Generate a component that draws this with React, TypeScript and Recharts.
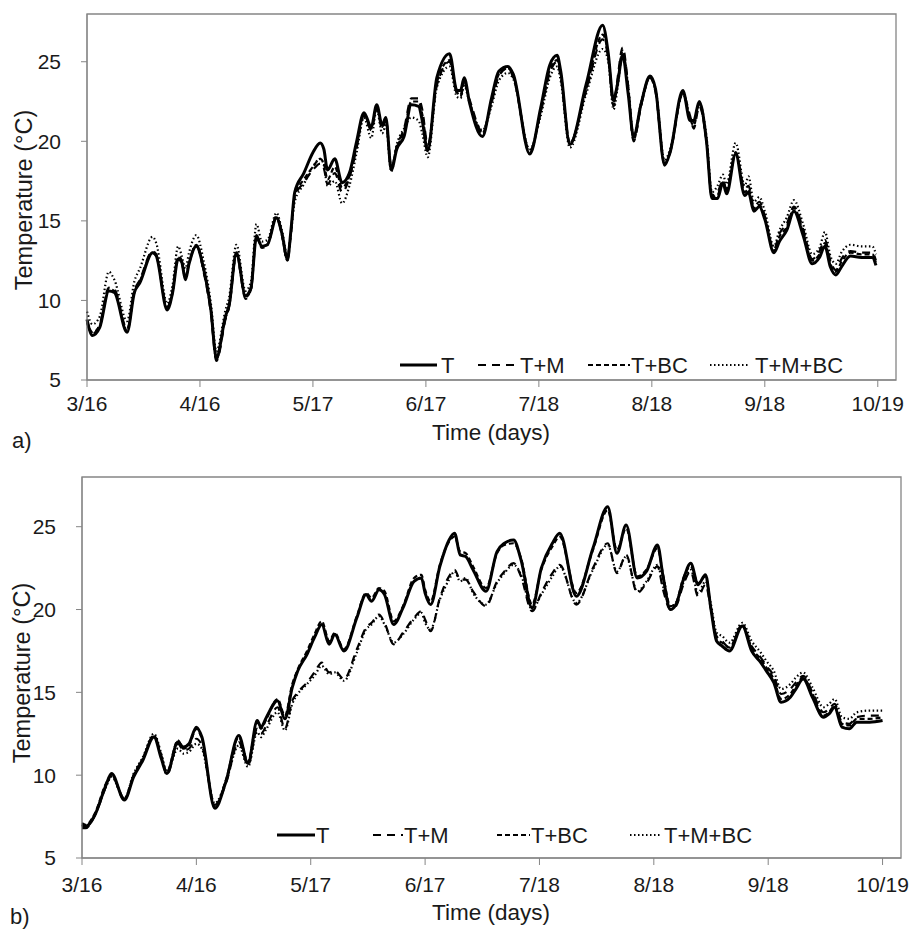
import { LineChart, Line, XAxis, YAxis, ReferenceArea } from 'recharts';

// x positions are days after 3/16
const TICK_DAYS = [0, 31, 62, 93, 124, 155, 186, 217];
const TICK_LABELS = ['3/16', '4/16', '5/17', '6/17', '7/18', '8/18', '9/18', '10/19'];
const Y_TICKS = [5, 10, 15, 20, 25];

// ---- panel a ----
const A_DAYS = [0, 1.5, 3.5, 6, 7.5, 11, 13, 14.5, 18, 19, 22, 23.5, 25, 26, 27, 28, 30, 32, 34, 35.5, 38, 39, 41, 43.5, 45, 46.5, 48, 49.5, 52, 53.5, 55, 56, 57, 59.5, 62, 64, 65, 66, 68, 70, 72, 74, 76, 78, 79.5, 81, 82, 83.5, 85, 87, 89, 91, 92, 93.5, 96, 99.5, 101.5, 102.5, 103.5, 105, 108.5, 111, 113, 115.5, 117, 121.5, 124.5, 127, 129, 130, 132.5, 137, 141.5, 143, 144.5, 145.5, 147, 148.5, 150, 152, 154.5, 156, 158.5, 160, 163.5, 165.5, 166.5, 168, 170, 171.5, 173, 174.5, 175.5, 178, 180.5, 181.5, 183, 184.5, 186, 188.5, 190, 192, 194, 196.5, 199, 201, 202.5, 204, 205.5, 207, 209.5, 212.5, 215.5, 216.5];
const A_T = [8.8, 7.8, 8.3, 10.6, 10.5, 8.0, 10.5, 11.1, 13.0, 12.8, 9.4, 10.5, 12.6, 12.4, 11.3, 12.3, 13.4, 12.0, 9.4, 6.4, 9.0, 9.7, 13.0, 10.3, 10.8, 14.0, 13.4, 13.5, 15.2, 14.2, 12.6, 14.5, 16.8, 18.0, 19.3, 19.9, 19.5, 18.2, 18.9, 17.4, 18.0, 20.0, 21.8, 20.9, 22.3, 21.0, 21.5, 18.2, 19.5, 20.3, 22.3, 22.2, 21.3, 19.4, 24.0, 25.5, 23.2, 23.2, 24.0, 22.4, 20.3, 22.7, 24.4, 24.7, 24.2, 19.2, 22.1, 24.8, 25.4, 24.4, 19.8, 23.6, 27.3, 25.6, 22.6, 23.5, 25.4, 23.0, 20.3, 22.3, 24.1, 23.3, 18.5, 19.3, 23.2, 21.3, 21.3, 22.5, 20.0, 16.4, 16.4, 17.4, 16.7, 19.2, 16.6, 16.8, 15.6, 15.9, 15.1, 13.0, 13.7, 14.4, 15.6, 14.1, 12.3, 12.7, 13.4, 12.1, 11.6, 12.1, 12.8, 12.7, 12.7, 12.2];
const A_TM = [8.6, 7.9, 8.5, 10.8, 10.7, 8.2, 10.6, 11.3, 13.1, 12.9, 9.6, 10.6, 12.8, 12.5, 11.5, 12.4, 13.5, 11.8, 9.2, 6.2, 8.8, 9.6, 12.9, 10.1, 10.7, 14.1, 13.4, 13.5, 15.3, 14.1, 12.5, 14.3, 16.5, 17.4, 18.2, 18.6, 18.3, 17.3, 18.0, 16.8, 17.7, 19.6, 21.6, 20.7, 22.1, 20.8, 21.3, 18.3, 19.7, 20.8, 22.7, 22.7, 22.0, 19.8, 23.5, 25.0, 23.0, 22.8, 23.6, 22.6, 20.6, 22.4, 24.1, 24.6, 24.0, 19.4, 21.8, 24.3, 25.0, 24.0, 19.9, 23.2, 26.4, 25.3, 22.2, 23.8, 25.9, 23.5, 20.0, 22.2, 24.0, 23.1, 18.6, 19.3, 23.0, 21.6, 20.8, 22.2, 20.0, 16.6, 16.8, 17.5, 17.0, 19.3, 17.0, 17.2, 15.9, 16.2, 15.3, 13.2, 14.2, 14.8, 15.9, 14.5, 12.6, 13.1, 13.8, 12.5, 11.9, 12.6, 13.1, 13.0, 13.0, 12.5];
const A_TBC = [8.7, 8.0, 8.4, 10.7, 10.6, 8.1, 10.5, 11.2, 13.0, 12.8, 9.5, 10.5, 12.7, 12.4, 11.4, 12.3, 13.5, 11.9, 9.3, 6.3, 8.9, 9.6, 12.9, 10.2, 10.7, 14.0, 13.3, 13.5, 15.2, 14.1, 12.5, 14.4, 16.6, 17.6, 18.4, 18.9, 18.6, 17.6, 18.4, 17.1, 17.8, 19.7, 21.7, 20.8, 22.2, 20.9, 21.4, 18.4, 19.6, 20.6, 22.5, 22.5, 21.7, 19.6, 23.7, 25.1, 23.1, 22.9, 23.8, 22.5, 20.5, 22.5, 24.2, 24.6, 24.1, 19.3, 21.9, 24.5, 25.1, 24.2, 19.9, 23.3, 26.7, 25.5, 22.4, 23.6, 25.7, 23.3, 20.1, 22.2, 24.0, 23.2, 18.6, 19.3, 23.1, 21.4, 21.0, 22.3, 20.0, 16.5, 16.6, 17.5, 16.9, 19.3, 16.8, 17.0, 15.8, 16.0, 15.2, 13.1, 14.0, 14.6, 15.8, 14.3, 12.5, 12.9, 13.6, 12.3, 11.8, 12.4, 13.0, 12.9, 12.9, 12.4];
const A_TMBC = [9.3, 8.5, 9.0, 11.8, 11.3, 8.7, 11.2, 12.0, 14.0, 13.6, 9.8, 11.0, 13.4, 12.8, 12.0, 13.0, 14.1, 12.5, 9.8, 6.8, 9.4, 10.2, 13.5, 10.6, 11.2, 14.8, 13.7, 13.8, 15.5, 14.4, 12.8, 14.3, 16.2, 17.3, 18.4, 18.9, 18.5, 17.2, 17.5, 16.1, 17.2, 19.3, 21.5, 20.2, 22.0, 20.5, 21.0, 18.1, 19.8, 20.8, 21.5, 21.3, 20.5, 19.0, 23.4, 24.7, 22.8, 22.7, 23.5, 22.4, 20.7, 22.2, 23.8, 24.3, 23.9, 19.5, 21.6, 24.0, 24.7, 23.8, 19.6, 23.0, 25.8, 25.1, 22.0, 23.2, 25.5, 23.5, 20.3, 22.4, 24.0, 23.3, 18.8, 19.5, 23.0, 21.5, 21.2, 22.4, 20.3, 16.8, 17.2, 17.9, 17.3, 19.9, 17.2, 17.8, 16.2, 16.5, 15.6, 13.4, 14.4, 15.2, 16.3, 14.8, 12.9, 13.3, 14.3, 12.8, 12.3, 13.0, 13.5, 13.4, 13.4, 12.9];

// ---- panel b ----
const B_DAYS = [0, 1, 3.5, 6.5, 8, 11.5, 14, 16.5, 19.5, 21.5, 23, 26, 27.5, 29, 31, 32.5, 36, 39, 42.5, 45, 47.5, 48.5, 50, 53, 55, 57, 58.5, 61, 63, 65, 67, 68.5, 71, 74.5, 77, 78.5, 80.5, 82, 84.5, 87, 90, 92, 93, 94.5, 97, 99.5, 101, 102.5, 104, 106, 109.5, 112.5, 114.5, 117, 119, 122, 124.5, 127.5, 129.5, 134, 138.5, 142.5, 145, 147.5, 150.5, 153, 156, 157.5, 159.5, 161, 163, 165, 167, 169, 170.5, 172, 173.5, 175.5, 179, 181.5, 184, 185.5, 187.5, 189.5, 192, 193.5, 195.5, 198, 201, 202.5, 204, 206, 208, 210, 213.5, 217];
const B_T = [7.0, 6.9, 7.6, 9.4, 10.1, 8.5, 9.9, 10.9, 12.3, 11.0, 10.1, 12.0, 11.7, 11.9, 12.9, 12.3, 8.0, 9.6, 12.4, 10.7, 13.3, 12.9, 13.5, 14.5, 13.4, 15.3, 16.3, 17.3, 18.3, 19.1, 17.9, 18.5, 17.5, 19.5, 20.9, 20.5, 21.2, 20.9, 19.1, 20.1, 21.7, 21.9, 21.0, 20.3, 22.6, 24.2, 24.6, 23.3, 23.2, 22.4, 21.1, 23.5, 24.0, 24.2, 23.0, 20.1, 22.5, 24.0, 24.6, 20.8, 23.7, 26.2, 23.4, 25.1, 21.9, 22.3, 23.9, 22.0, 20.0, 20.3, 21.8, 22.8, 21.5, 22.1, 20.0, 18.1, 17.8, 17.5, 19.0, 17.5, 16.8, 16.3, 15.6, 14.4, 14.7, 15.2, 15.8, 14.7, 13.5, 13.7, 14.1, 12.9, 12.8, 13.2, 13.2, 13.3];
const B_TM = [6.8, 6.8, 7.6, 9.3, 10.0, 8.5, 10.0, 11.0, 12.4, 11.2, 10.0, 11.9, 11.5, 11.6, 12.2, 11.8, 8.2, 9.5, 12.0, 10.6, 12.8, 12.5, 13.0, 14.1, 12.8, 14.5, 15.0, 15.6, 16.2, 16.8, 16.2, 16.3, 15.8, 17.6, 18.9, 19.2, 19.7, 19.2, 17.9, 18.6, 19.5, 19.9, 19.4, 18.7, 20.7, 22.0, 22.4, 21.8, 21.8, 21.1, 20.2, 21.7, 22.3, 22.8, 22.0, 19.9, 21.0, 22.2, 22.7, 20.3, 22.5, 24.0, 22.2, 23.3, 21.0, 21.6, 22.6, 21.2, 20.0, 20.2, 21.5, 22.3, 20.8, 21.5, 20.0, 18.4, 18.1, 17.7, 19.0, 17.8, 17.1, 16.6, 16.0, 14.9, 15.2, 15.6, 16.0, 15.0, 13.8, 14.0, 14.3, 13.2, 13.1, 13.5, 13.6, 13.6];
const B_TBC = [7.1, 7.0, 7.7, 9.5, 10.0, 8.6, 10.0, 11.0, 12.4, 11.1, 10.2, 12.1, 11.6, 11.8, 12.8, 12.2, 8.1, 9.7, 12.3, 10.8, 13.2, 12.8, 13.4, 14.6, 13.6, 15.5, 16.4, 17.5, 18.5, 19.3, 18.1, 18.6, 17.6, 19.6, 21.0, 20.7, 21.3, 21.1, 19.3, 20.2, 21.9, 22.1, 21.2, 20.5, 22.7, 24.1, 24.4, 23.5, 23.4, 22.6, 21.3, 23.4, 23.9, 24.0, 23.1, 20.3, 22.4, 23.8, 24.4, 21.0, 23.6, 26.0, 23.6, 24.9, 22.0, 22.4, 23.7, 22.1, 20.2, 20.4, 21.9, 22.6, 21.6, 22.0, 20.1, 18.2, 18.0, 17.7, 19.1, 17.7, 17.0, 16.5, 15.8, 14.6, 14.9, 15.4, 15.9, 14.9, 13.6, 13.8, 14.2, 13.1, 13.0, 13.4, 13.4, 13.5];
const B_TMBC = [6.9, 6.9, 7.6, 9.3, 9.9, 8.6, 10.1, 11.1, 12.5, 11.3, 10.2, 11.6, 11.3, 11.4, 11.9, 11.6, 8.3, 9.6, 11.8, 10.5, 12.6, 12.3, 12.8, 13.8, 12.7, 14.3, 14.9, 15.5, 16.0, 16.6, 16.1, 16.2, 15.7, 17.4, 18.8, 19.1, 19.6, 19.1, 18.0, 18.5, 19.4, 19.8, 19.2, 18.8, 20.6, 21.8, 22.3, 21.7, 21.9, 21.0, 20.3, 21.6, 22.2, 22.7, 22.1, 20.0, 20.9, 22.0, 22.6, 20.4, 22.4, 23.9, 22.3, 23.2, 21.1, 21.7, 22.7, 21.4, 20.2, 20.4, 21.6, 22.4, 21.0, 21.7, 20.3, 18.6, 18.4, 18.0, 19.2, 18.1, 17.4, 16.9, 16.3, 15.2, 15.5, 15.9, 16.2, 15.3, 14.1, 14.3, 14.6, 13.5, 13.4, 13.8, 13.9, 13.9];

const SERIES = [
  { key: 'T', name: 'T', width: 3, dash: undefined as string | undefined },
  { key: 'TM', name: 'T+M', width: 2.2, dash: '8 6' },
  { key: 'TBC', name: 'T+BC', width: 2.2, dash: '5 3' },
  { key: 'TMBC', name: 'T+M+BC', width: 2.2, dash: '1.5 2.5' },
];

const FONT = '"Liberation Sans", Arial, sans-serif';
const AXIS = '#858585';
const INK = '#1a1a1a';

const dataA = A_DAYS.map((d, i) => ({ day: d, T: A_T[i], TM: A_TM[i], TBC: A_TBC[i], TMBC: A_TMBC[i] }));
const dataB = B_DAYS.map((d, i) => ({ day: d, T: B_T[i], TM: B_TM[i], TBC: B_TBC[i], TMBC: B_TMBC[i] }));

const fmtX = (v: number) => TICK_LABELS[TICK_DAYS.indexOf(v)] ?? '';

type PanelProps = { data: any[]; height: number; top: number; right: number; yWidth: number; xHeight: number; tickGap: number };

function Panel({ data, height, top, right, yWidth, xHeight, tickGap }: PanelProps) {
  const tick = { fontFamily: FONT, fontSize: 21, fill: INK };
  return (
    <LineChart width={913} height={height} data={data} margin={{ top, right, bottom: 0, left: 0 }}>
      <ReferenceArea x1={0} x2={222} y1={5} y2={28} fill="none" stroke={AXIS} strokeWidth={1.3} ifOverflow="visible" />
      <XAxis
        dataKey="day"
        type="number"
        domain={[0, 222]}
        ticks={TICK_DAYS}
        tickFormatter={fmtX}
        interval={0}
        height={xHeight}
        stroke={AXIS}
        tickSize={7}
        tickMargin={tickGap}
        tick={tick}
      />
      <YAxis
        type="number"
        domain={[5, 28]}
        ticks={Y_TICKS}
        width={yWidth}
        stroke={AXIS}
        tickSize={6}
        tickMargin={20}
        tick={tick}
      />
      {SERIES.map((s) => (
        <Line
          key={s.key}
          dataKey={s.key}
          name={s.name}
          type="monotone"
          stroke="#000"
          strokeWidth={s.width}
          strokeDasharray={s.dash}
          dot={false}
          isAnimationActive={false}
        />
      ))}
    </LineChart>
  );
}

function LegendRow({ y, items }: { y: number; items: { x1: number; x2: number; tx: number }[] }) {
  return (
    <>
      {SERIES.map((s, i) => (
        <g key={s.key}>
          <line x1={items[i].x1} x2={items[i].x2} y1={y} y2={y} stroke="#000" strokeWidth={s.width} strokeDasharray={s.dash} />
          <text x={items[i].tx} y={y} dominantBaseline="central" fontFamily={FONT} fontSize={22} fill={INK}>
            {s.name}
          </text>
        </g>
      ))}
    </>
  );
}

export default function App() {
  return (
    <div style={{ position: 'absolute', left: 0, top: 0, width: 913, height: 931, background: '#fff' }}>
      <div style={{ position: 'absolute', left: 0, top: 0 }}>
        <Panel data={dataA} height={440} top={14} right={17} yWidth={87} xHeight={60} tickGap={9} />
      </div>
      <div style={{ position: 'absolute', left: 0, top: 460 }}>
        <Panel data={dataB} height={471} top={17} right={12} yWidth={82} xHeight={73} tickGap={12} />
      </div>
      <svg width={913} height={931} style={{ position: 'absolute', left: 0, top: 0, pointerEvents: 'none' }}>
        <LegendRow
          y={365}
          items={[
            { x1: 400, x2: 437, tx: 441 },
            { x1: 478, x2: 518, tx: 520 },
            { x1: 588, x2: 630, tx: 631 },
            { x1: 710, x2: 748, tx: 755 },
          ]}
        />
        <LegendRow
          y={835}
          items={[
            { x1: 277, x2: 315, tx: 316 },
            { x1: 373, x2: 403, tx: 404 },
            { x1: 497, x2: 530, tx: 531 },
            { x1: 630, x2: 662, tx: 664 },
          ]}
        />
        <text x={24} y={200} transform="rotate(-90 24 200)" textAnchor="middle" dominantBaseline="central" fontFamily={FONT} fontSize={23.5} fill={INK}>
          Temperature (°C)
        </text>
        <text x={22} y={673} transform="rotate(-90 22 673)" textAnchor="middle" dominantBaseline="central" fontFamily={FONT} fontSize={23.5} fill={INK}>
          Temperature (°C)
        </text>
        <text x={491} y={432} textAnchor="middle" dominantBaseline="central" fontFamily={FONT} fontSize={22.5} fill={INK}>
          Time (days)
        </text>
        <text x={491} y={912} textAnchor="middle" dominantBaseline="central" fontFamily={FONT} fontSize={22.5} fill={INK}>
          Time (days)
        </text>
        <text x={12} y={440} dominantBaseline="central" fontFamily={FONT} fontSize={22} fill={INK}>
          a)
        </text>
        <text x={10} y={916} dominantBaseline="central" fontFamily={FONT} fontSize={22} fill={INK}>
          b)
        </text>
      </svg>
    </div>
  );
}
